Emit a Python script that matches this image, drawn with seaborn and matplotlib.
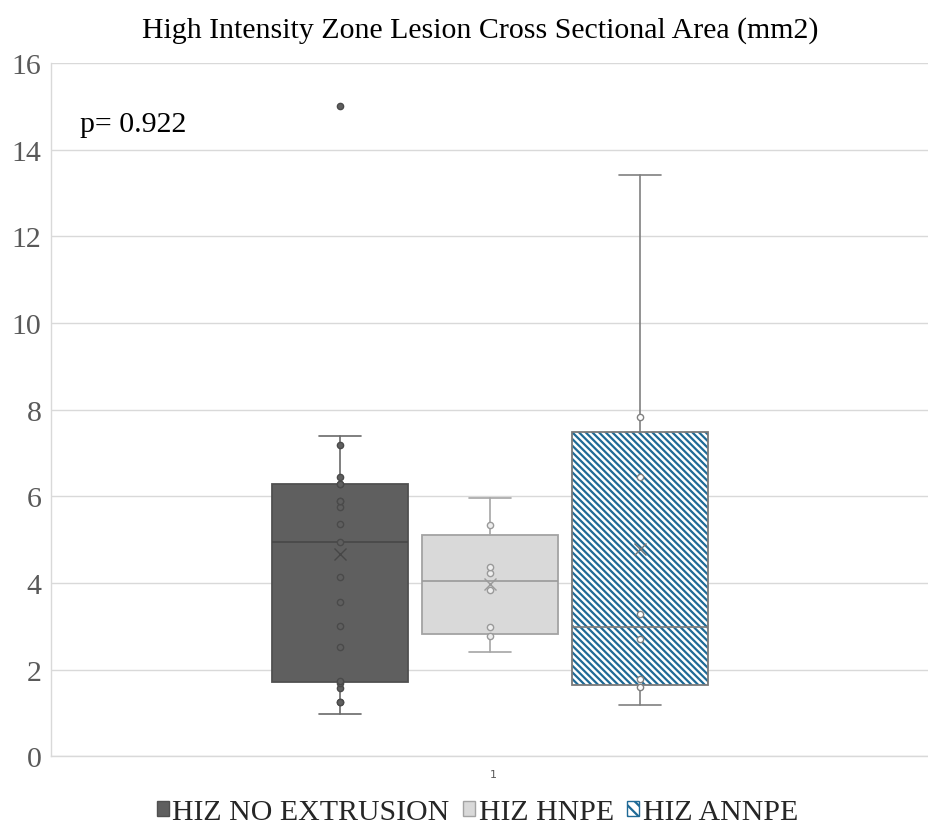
import numpy as np
import pandas as pd
import matplotlib
matplotlib.use("Agg")
import matplotlib.pyplot as plt
import matplotlib.patches as mpatches
import seaborn as sns

# values (mm2)
groups = ["HIZ NO EXTRUSION", "HIZ HNPE", "HIZ ANNPE"]
no_extrusion = [0.97, 1.26, 1.26, 1.58, 1.70, 1.74, 2.53, 3.00, 3.57, 4.14, 4.95,
                5.35, 5.75, 5.90, 5.90, 6.28, 6.28, 6.45, 7.19, 7.40, 15.0]
hnpe = [2.41, 2.78, 2.98, 3.83, 4.24, 4.37, 5.34, 5.95]
annpe = [1.18, 1.60, 1.79, 2.70, 3.29, 6.44, 7.84, 13.42]
p_text = "p= 0.922"
x_label = "1"

sns.set_theme(style="white")
plt.rcParams['font.family'] = ['Liberation Serif', 'DejaVu Serif']
plt.rcParams['hatch.linewidth'] = 1.6

grey_line = "#d9d9d9"
fs = 21.5


def excel_stats(vals):
    # excel style box: exclusive quartiles, 1.5 IQR whiskers
    v = np.sort(np.asarray(vals, dtype=float))
    q1, med, q3 = np.percentile(v, [25, 50, 75], method="weibull")
    iqr = q3 - q1
    lo, hi = q1 - 1.5 * iqr, q3 + 1.5 * iqr
    inside = v[(v >= lo) & (v <= hi)]
    return dict(med=med, q1=q1, q3=q3, whislo=inside.min(), whishi=inside.max(),
                mean=v.mean(), fliers=v[(v < lo) | (v > hi)])


series = [no_extrusion, hnpe, annpe]
positions = [-1.0, 0.0, 1.0]
box_face = ["#5f5f5f", "#d9d9d9", "white"]
box_edge = ["#505050", "#a3a3a3", "#7a7a7a"]
line_col = ["#6a6a6a", "#a6a6a6", "#808080"]
med_col = ["#474747", "#9a9a9a", "#7a7a7a"]
pt_face = ["#5f5f5f", "#eeeeee", "white"]
pt_edge = ["#4a4a4a", "#9a9a9a", "#808080"]
hatch_col = "#1f6a96"
hatch = "\\" * 5

df = pd.concat([pd.DataFrame({"group": g, "pos": p, "value": s})
                for g, p, s in zip(groups, positions, series)], ignore_index=True)

fig = plt.figure(figsize=(9.29, 8.29), dpi=100)
ax = fig.add_axes([0.0549, 0.0865, 0.9451, 0.8363])

for i, (g, p, s) in enumerate(zip(groups, positions, series)):
    st = excel_stats(s)
    hatched = i == 2
    art = ax.bxp([st], positions=[p], widths=0.907, capwidths=0.28, patch_artist=True,
                 showmeans=True, showfliers=False, manage_ticks=False,
                 boxprops=dict(facecolor=box_face[i],
                               edgecolor=hatch_col if hatched else box_edge[i],
                               linewidth=0 if hatched else 1.3,
                               hatch=hatch if hatched else None),
                 whiskerprops=dict(color=line_col[i], linewidth=1.2),
                 capprops=dict(color=line_col[i], linewidth=1.2),
                 medianprops=dict(color=med_col[i], linewidth=1.2),
                 meanprops=dict(marker="x", markersize=9, markeredgecolor=med_col[i],
                                markeredgewidth=1.0))
    if hatched:
        box = art["boxes"][0]
        ax.add_patch(mpatches.PathPatch(box.get_path(), fill=False,
                                        edgecolor=box_edge[i], linewidth=1.3, zorder=2.1))
    # excel leaves the whisker-end values unmarked
    sub = df[(df["group"] == g) & (df["value"] != st["whislo"]) & (df["value"] != st["whishi"])]
    sns.stripplot(data=sub, x="pos", y="value", native_scale=True, orient="x",
                  jitter=False, color=pt_face[i], edgecolor=pt_edge[i],
                  linewidth=1.0, size=4.5, ax=ax, zorder=3)

ax.set_xlim(-2.927, 2.927)
ax.set_ylim(0, 16)
ax.set_yticks(np.arange(0, 17, 2))
ax.set_xticks([0.02])
ax.set_xticklabels([x_label], fontsize=8, color="#595959", family="DejaVu Sans")
ax.set_xlabel("")
ax.set_ylabel("")
ax.tick_params(axis="y", length=0, pad=7, labelsize=fs, labelcolor="#595959")
ax.tick_params(axis="x", length=0, pad=9)
ax.yaxis.grid(True, color=grey_line, linewidth=1.0)
ax.set_axisbelow(True)
for side in ["top", "right"]:
    ax.spines[side].set_visible(False)
for side in ["left", "bottom"]:
    ax.spines[side].set_color(grey_line)
    ax.spines[side].set_linewidth(1.0)

ax.text(0.033, 0.912, p_text, transform=ax.transAxes, fontsize=fs,
        va="center", ha="left", color="black")

fig.suptitle("High Intensity Zone Lesion Cross Sectional Area (mm2)",
             x=0.517, y=0.963, va="center", fontsize=fs, color="black")

handles = [
    mpatches.Patch(facecolor=box_face[0], edgecolor=box_edge[0], label=groups[0]),
    mpatches.Patch(facecolor=box_face[1], edgecolor=box_edge[1], label=groups[1]),
    mpatches.Patch(facecolor="white", edgecolor=hatch_col, hatch="\\\\\\", label=groups[2]),
]
fig.legend(handles=handles, loc="center", bbox_to_anchor=(0.514, 0.0193), ncol=3,
           frameon=False, fontsize=fs, handlelength=0.4, handleheight=0.4,
           handletextpad=0.12, columnspacing=0.45, borderaxespad=0)

fig.savefig("out.png", dpi=100)
